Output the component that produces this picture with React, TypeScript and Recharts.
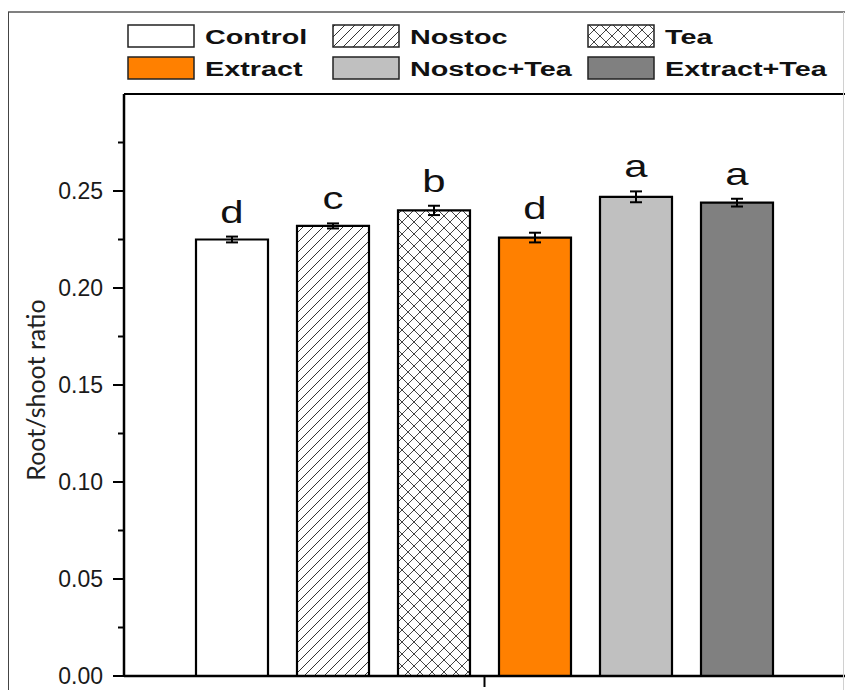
import React from "react";
import { BarChart, Bar, XAxis, YAxis, ErrorBar, LabelList, ReferenceLine } from "recharts";

const treatments = ["Control", "Nostoc", "Tea", "Extract", "Nostoc+Tea", "Extract+Tea"];
const ratios = [0.225, 0.232, 0.24, 0.226, 0.247, 0.244];
const errors = [0.0015, 0.0013, 0.0024, 0.0025, 0.0028, 0.002];
const letters = ["d", "c", "b", "d", "a", "a"];
const majorTicks = [0, 0.05, 0.1, 0.15, 0.2, 0.25];
const minorTicks = [0.025, 0.075, 0.125, 0.175, 0.225, 0.275];

const fillFor = (i: number, prefix: string) =>
  ["#ffffff", `url(#${prefix}hatch)`, `url(#${prefix}cross)`, "#ff8000", "#c0c0c0", "#808080"][i];

const row: Record<string, number | string> = { group: "" };
treatments.forEach((_, i) => {
  row[`v${i}`] = ratios[i];
  row[`e${i}`] = errors[i];
});
const data = [row];
const allTicks = [...majorTicks, ...minorTicks].sort((a, b) => a - b);

const ARIAL = "'Liberation Sans', Arial, sans-serif";

function Patterns({ prefix }: { prefix: string }) {
  return (
    <defs>
      <pattern id={`${prefix}hatch`} patternUnits="userSpaceOnUse" width="10" height="10">
        <rect width="10" height="10" fill="#fff" />
        <path d="M-1,1 L1,-1 M0,10 L10,0 M9,11 L11,9" stroke="#333" strokeWidth="1" />
      </pattern>
      <pattern id={`${prefix}cross`} patternUnits="userSpaceOnUse" width="12" height="12">
        <rect width="12" height="12" fill="#fff" />
        <path d="M0,0 L12,12 M0,12 L12,0" stroke="#444" strokeWidth="1" />
      </pattern>
    </defs>
  );
}

function YTick(props: any) {
  const { x, y, payload } = props;
  const axisX = x + 21;
  const major = majorTicks.includes(payload.value);
  return (
    <g>
      <line x1={axisX - (major ? 11 : 6)} x2={axisX} y1={y} y2={y} stroke="#000" strokeWidth={2} />
      {major && (
        <text x={x} y={y} dy="0.36em" textAnchor="end" fontSize={23} fontFamily={ARIAL} fill="#1a1a1a">
          {payload.value.toFixed(2)}
        </text>
      )}
    </g>
  );
}

// single tick mark under the category centre, no label
function XTick(props: any) {
  const { x, y } = props;
  return <line x1={x} x2={x} y1={y - 11} y2={y} stroke="#000" strokeWidth={2} />;
}

function Letter(props: any) {
  const vb = props.viewBox ?? props;
  const { x, y, width, height } = vb;
  const i = props.bar;
  // convert the error value to pixels with the bar's own scale
  const perUnit = height / ratios[i];
  const top = y - errors[i] * perUnit;
  return (
    <text
      transform={`translate(${x + width / 2},${top - 14}) scale(1.35,1)`}
      textAnchor="middle"
      fontSize={31}
      fontFamily={ARIAL}
      fill="#111"
    >
      {letters[i]}
    </text>
  );
}

function Overlay() {
  return (
    <svg width={845} height={690} style={{ position: "absolute", left: 0, top: 0, pointerEvents: "none" }}>
      <Patterns prefix="lg" />
      {/* outer frame */}
      <line x1={8} x2={845} y1={12} y2={12} stroke="#808080" strokeWidth={2} />
      <line x1={8.5} x2={8.5} y1={12} y2={690} stroke="#444" strokeWidth={1} />
      <line x1={843.5} x2={843.5} y1={12} y2={690} stroke="#d0d0d0" strokeWidth={1} />
      {/* legend */}
      {treatments.map((t, i) => {
        const bx = [128, 333, 588][i % 3];
        const by = [25, 57][Math.floor(i / 3)];
        return (
          <g key={t}>
            <rect x={bx} y={by} width={66} height={22} fill={fillFor(i, "lg")} stroke="#222" strokeWidth={1.5} />
            <text
              transform={`translate(${bx + 77},${by + 18.5}) scale(1.37,1)`}
              fontSize={21}
              fontWeight="bold"
              fontFamily={ARIAL}
              fill="#111"
            >
              {t}
            </text>
          </g>
        );
      })}
      <text
        transform="translate(35,390) rotate(-90)"
        textAnchor="middle"
        dominantBaseline="central"
        fontSize={25}
        fontFamily="Lato, 'Open Sans', sans-serif"
        fill="#222"
      >
        Root/shoot ratio
      </text>
    </svg>
  );
}

export default function App() {
  return (
    <div style={{ position: "absolute", left: 0, top: 0, width: 845, height: 690, background: "#fff" }}>
      <BarChart
        width={845}
        height={690}
        data={data}
        margin={{ top: 94, right: 0, bottom: 0, left: 0 }}
        barGap={29}
        barCategoryGap={72}
      >
        <Patterns prefix="" />
        <XAxis
          dataKey="group"
          tick={<XTick />}
          tickLine={false}
          tickSize={11}
          tickMargin={0}
          axisLine={{ stroke: "#000", strokeWidth: 2.5 }}
          height={14}
        />
        <YAxis
          type="number"
          domain={[0, 0.3]}
          ticks={allTicks}
          interval={0}
          tick={<YTick />}
          tickLine={false}
          tickSize={10}
          tickMargin={11}
          axisLine={{ stroke: "#000", strokeWidth: 2.5 }}
          width={124}
          allowDataOverflow
        />
        <ReferenceLine y={0.3} stroke="#000" strokeWidth={2} />
        {treatments.map((t, i) => (
          <Bar
            key={t}
            dataKey={`v${i}`}
            name={t}
            fill={fillFor(i, "")}
            stroke="#000"
            strokeWidth={2.2}
            barSize={72}
            isAnimationActive={false}
          >
            <ErrorBar dataKey={`e${i}`} width={6} stroke="#000" strokeWidth={2} direction="y" />
            <LabelList dataKey={`v${i}`} content={(p: any) => <Letter {...p} bar={i} />} />
          </Bar>
        ))}
      </BarChart>
      <Overlay />
    </div>
  );
}
